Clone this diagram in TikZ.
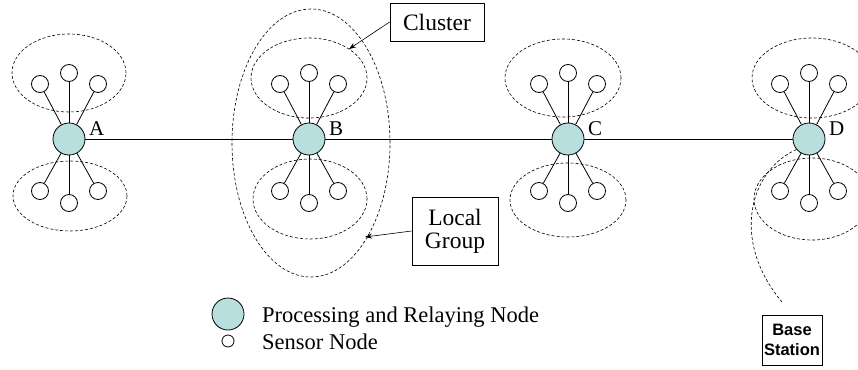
\documentclass[tikz,border=0pt]{standalone}
\usepackage{fontspec}
\setmainfont{Liberation Serif}
\setsansfont{Liberation Sans}
\usetikzlibrary{arrows.meta}
\definecolor{hubfill}{RGB}{184,222,222}
\tikzset{
  pnode/.style={circle,draw,line width=0.8pt,fill=hubfill,minimum size=32pt,inner sep=0pt},
  snode/.style={circle,draw,line width=0.8pt,fill=white,minimum size=17pt,inner sep=0pt},
  spoke/.style={line width=0.8pt},
  clus/.style={draw,dash pattern=on 3pt off 2pt,line width=0.6pt},
  lab/.style={inner sep=0pt,font=\fontsize{21}{24}\selectfont},
  box/.style={draw,line width=0.6pt,inner sep=0pt,align=center,font=\fontsize{23.5}{25}\selectfont},
  arr/.style={line width=0.6pt,-{Stealth[length=7pt,width=5pt]}},
  legtext/.style={anchor=base west,inner sep=0pt,font=\fontsize{22.5}{26}\selectfont}
}
\begin{document}
\begin{tikzpicture}[x=1pt,y=-1pt]
\useasboundingbox (0,0) rectangle (858,369);
% cluster ellipses
\draw[clus] (69,73) ellipse [x radius=57pt, y radius=39pt];
\draw[clus] (70,196) ellipse [x radius=57pt, y radius=35pt];
\draw[clus] (309,78) ellipse [x radius=58pt, y radius=40pt];
\draw[clus] (310,199) ellipse [x radius=57pt, y radius=40pt];
\draw[clus] (563,78) ellipse [x radius=58pt, y radius=39pt];
\draw[clus] (568,200) ellipse [x radius=58pt, y radius=37pt];
\draw[clus] (812,78) ellipse [x radius=60pt, y radius=40pt];
\draw[clus] (812,199) ellipse [x radius=58pt, y radius=41pt];
% local group
\draw[clus] (311,143) ellipse [x radius=79pt, y radius=134pt];
% hubs and sensors
\foreach \n/\x in {A/69,B/309,C/568,D/809} {
  \node[pnode] (\n) at (\x,139) {};
  \node[snode] (\n1) at (\x-29,84) {};
  \node[snode] (\n2) at (\x,73) {};
  \node[snode] (\n3) at (\x+29,84) {};
  \node[snode] (\n4) at (\x-29,191) {};
  \node[snode] (\n5) at (\x,203) {};
  \node[snode] (\n6) at (\x+29,191) {};
  \foreach \k in {1,...,6} \draw[spoke] (\n) -- (\n\k);
  \node[lab,anchor=base west] (L\n) at (\x+20,135) {\n};
}
\draw[spoke] (A) -- (B) -- (C) -- (D);
% cluster label
\node[box,minimum width=94pt,minimum height=38pt] (cl) at (437,22) {Cluster};
\coordinate (clt) at (349,49);
\draw[arr] (cl.west) -- (clt);
% local group label
\node[box,minimum width=86pt,minimum height=68pt] (lg) at (455,231) {Local\\[-2pt]Group};
\coordinate (lgt) at (365,237);
\draw[arr] (lg.west) -- (lgt);
% base station
\node[draw,line width=0.6pt,minimum width=60pt,minimum height=50pt,inner sep=0pt,align=center,font=\sffamily\bfseries\fontsize{16.5}{20}\selectfont] (bs) at (792,340) {Base\\Station};
\coordinate (bse) at (782,302);
\draw[clus] (D.220) .. controls (750,170) and (730,240) .. (bse);
% legend
\node[pnode] (lg1) at (228,314) {};
\node[circle,draw,line width=0.8pt,minimum size=12pt,inner sep=0pt] (lg2) at (228,341) {};
\node[legtext] (t1) at (262,322) {Processing and Relaying Node};
\node[legtext] (t2) at (262,349) {Sensor Node};
\end{tikzpicture}
\end{document}
